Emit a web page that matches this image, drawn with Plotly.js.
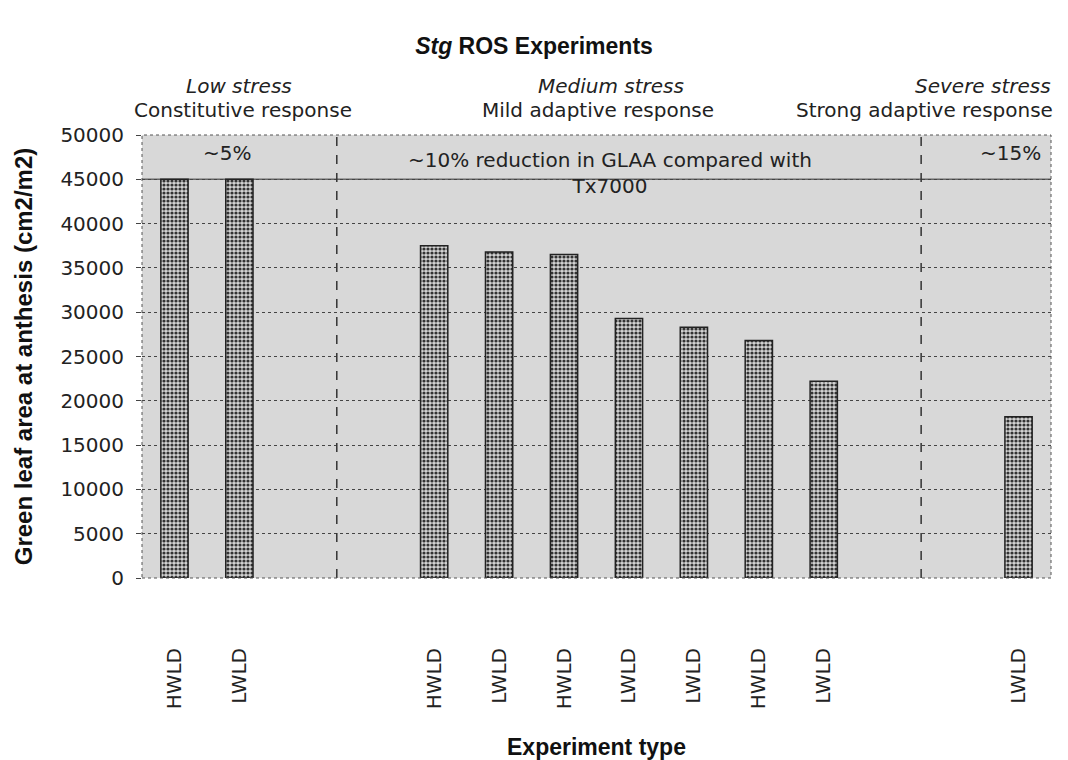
<!DOCTYPE html>
<html>
<head>
<meta charset="utf-8">
<script src="https://cdn.plot.ly/plotly-3.0.1.min.js"></script>
<style>
  html, body { margin: 0; padding: 0; background: #ffffff; }
  #chart { width: 1068px; height: 760px; }
</style>
</head>
<body>
<div id="chart"></div>
<script>
// ---- data ----
const slotLabels = ['HWLD', 'LWLD', '', '', 'HWLD', 'LWLD', 'HWLD', 'LWLD', 'LWLD', 'HWLD', 'LWLD', '', '', 'LWLD'];
const barSlots = [0, 1, 4, 5, 6, 7, 8, 9, 10, 13];
const glaaValues = [45000, 45000, 37500, 36800, 36500, 29300, 28300, 26800, 22200, 18200];
const stressDividers = [2.5, 11.5];
const tx7000Level = 45000;
const groupTitles = ['Low stress', 'Medium stress', 'Severe stress'];
const groupSubtitles = ['Constitutive response', 'Mild adaptive response', 'Strong adaptive response'];
const reductionNotes = ['~5%', '~10% reduction in GLAA compared with<br>Tx7000', '~15%'];
const chartTitle = '<b><i>Stg</i> ROS Experiments</b>';
const xTitle = 'Experiment type';
const yTitle = 'Green leaf area at anthesis (cm2/m2)';

// ---- derived ----
const slotIdx = slotLabels.map((_, i) => i);
const slotBounds = slotLabels.map((_, i) => i - 0.5).concat([slotLabels.length - 0.5]);
const xRange = [-0.5, slotLabels.length - 0.5];

const tickFont = { family: 'DejaVu Sans, sans-serif', size: 20, color: '#222' };
const boldFont = { family: 'Liberation Sans, Arial, sans-serif', size: 23, color: '#111' };
const noteFont = { family: 'DejaVu Sans, sans-serif', size: 20, color: '#222' };

const trace = {
  type: 'bar',
  x: barSlots,
  y: glaaValues,
  width: 0.42,
  marker: {
    color: '#c4c4c4',
    line: { color: '#222', width: 1.5 },
    pattern: { shape: '.', fgcolor: '#333', bgcolor: '#d4d4d4', size: 4, solidity: 0.5 }
  },
  hoverinfo: 'x+y',
  showlegend: false
};

const shapes = [];
stressDividers.forEach(d => shapes.push({
  type: 'line', xref: 'x', yref: 'paper', x0: d, x1: d, y0: 0, y1: 1,
  line: { color: '#333', width: 1.5, dash: 'dash' }
}));
shapes.push({
  type: 'line', xref: 'paper', yref: 'y', x0: 0, x1: 1, y0: tx7000Level, y1: tx7000Level,
  line: { color: '#666', width: 1.5 }, layer: 'below'
});
shapes.push({
  type: 'rect', xref: 'paper', yref: 'paper', x0: 0, x1: 1, y0: 0, y1: 1,
  line: { color: '#555', width: 1, dash: 'dot' }
});

const annotations = [
  { text: '<i>' + groupTitles[0] + '</i>', x: 1.0, xref: 'x', y: 1.11 },
  { text: groupSubtitles[0], x: 1.05, xref: 'x', y: 1.056 },
  { text: '<i>' + groupTitles[1] + '</i>', x: 6.72, xref: 'x', y: 1.11 },
  { text: groupSubtitles[1], x: 6.52, xref: 'x', y: 1.056 },
  { text: '<i>' + groupTitles[2] + '</i>', x: 1.002, xref: 'paper', y: 1.11, xanchor: 'right' },
  { text: groupSubtitles[2], x: 1.004, xref: 'paper', y: 1.056, xanchor: 'right' }
].map(a => Object.assign({ yref: 'paper', showarrow: false, yanchor: 'middle', xanchor: 'center', font: noteFont }, a));

annotations.push(
  { text: reductionNotes[0], x: 0.81, y: 48000, xref: 'x', yref: 'y', showarrow: false, font: noteFont },
  { text: reductionNotes[1], x: 6.71, y: 45700, xref: 'x', yref: 'y', showarrow: false, font: noteFont },
  { text: reductionNotes[2], x: 12.88, y: 48000, xref: 'x', yref: 'y', showarrow: false, font: noteFont }
);

const layout = {
  width: 1068,
  height: 760,
  margin: { l: 142, r: 17, t: 135, b: 182 },
  paper_bgcolor: '#ffffff',
  plot_bgcolor: '#d8d8d8',
  title: {
    text: chartTitle,
    font: boldFont,
    x: 0.5, xanchor: 'center',
    y: 0.94, yanchor: 'middle', yref: 'container'
  },
  xaxis: {
    range: xRange,
    tickmode: 'array',
    tickvals: slotIdx,
    ticktext: slotLabels,
    tickangle: -90,
    ticks: '',
    ticklabelstandoff: 65,
    tickfont: tickFont,
    showgrid: false,
    zeroline: false,
    showline: false,
    title: { text: '<b>' + xTitle + '</b>', font: boldFont, standoff: 30 },
    automargin: false,
    fixedrange: true
  },
  xaxis2: {
    overlaying: 'x',
    range: xRange,
    tickmode: 'array',
    tickvals: slotBounds,
    ticktext: slotBounds.map(() => ''),
    ticks: 'outside',
    ticklen: 5,
    tickcolor: '#444',
    showgrid: false,
    zeroline: false,
    showline: false,
    side: 'bottom',
    anchor: 'y'
  },
  yaxis: {
    range: [0, 50000],
    tickmode: 'linear',
    tick0: 0,
    dtick: 5000,
    tickformat: 'd',
    ticks: 'outside',
    ticklen: 5,
    tickcolor: '#444',
    ticklabelstandoff: 8,
    tickfont: tickFont,
    showgrid: true,
    gridcolor: '#444',
    gridwidth: 1,
    griddash: 'dot',
    zeroline: false,
    showline: false,
    title: { text: '<b>' + yTitle + '</b>', font: { family: boldFont.family, size: 24, color: '#111' }, standoff: 20 },
    automargin: false,
    fixedrange: true
  },
  bargap: 0.58,
  shapes: shapes,
  annotations: annotations,
  showlegend: false
};

Plotly.newPlot('chart', [trace], layout, { displayModeBar: false, staticPlot: true });
</script>
</body>
</html>
